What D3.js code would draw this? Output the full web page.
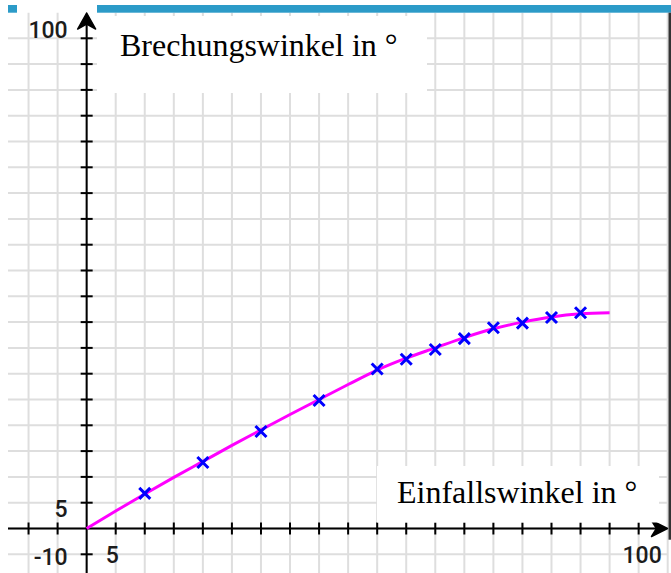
<!DOCTYPE html>
<html>
<head>
<meta charset="utf-8">
<script src="https://cdn.jsdelivr.net/npm/d3@7/dist/d3.min.js"></script>
<style>
  html, body { margin: 0; padding: 0; background: #fff; }
  svg { display: block; }
</style>
</head>
<body>
<svg id="chart" width="671" height="573"></svg>
<script>
// ---- data ----
const einfall = [10, 20, 30, 40, 50, 55, 60, 65, 70, 75, 80, 85];
const brechung = [6.8, 12.8, 18.8, 24.8, 30.9, 32.8, 34.7, 36.8, 38.9, 39.8, 40.9, 41.8];
const curveX = [0, 5, 10, 15, 20, 25, 30, 35, 40, 45, 50, 55, 60, 65, 70, 75, 80, 85, 90];
const curveY = [0, 3.4, 6.7, 9.9, 13.0, 16.1, 19.1, 22.1, 25.0, 27.9, 30.7, 33.0, 35.0, 37.0, 38.7, 40.0, 41.0, 41.6, 41.8];
const xTicks = [-10, -5, 5, 10, 15, 20, 25, 30, 35, 40, 45, 50, 55, 60, 65, 70, 75, 80, 85, 90, 95];
const yTicks = [-5, 5, 10, 15, 20, 25, 30, 35, 40, 45, 50, 55, 60, 65, 70, 75, 80, 85, 90, 95];
const gridX = [-10, -5, 0, 5, 10, 15, 20, 25, 30, 35, 40, 45, 50, 55, 60, 65, 70, 75, 80, 85, 90, 95, 100];
const gridY = [-5, 0, 5, 10, 15, 20, 25, 30, 35, 40, 45, 50, 55, 60, 65, 70, 75, 80, 85, 90, 95];
const xLabelAt = [4.4, 95.6];
const xLabelText = ["5", "100"];
const yLabelAt = [5, -4.4, 97.7];
const yLabelText = ["5", "-10", "100"];
const yTitle = "Brechungswinkel in °";
const xTitle = "Einfallswinkel in °";

// ---- scales ----
const x = d3.scaleLinear().domain([-15, 100]).range([-0.5, 667.7]);
const y = d3.scaleLinear().domain([-10, 100]).range([580.1, 12.5]);

const svg = d3.select("#chart");
const gridLeft = 8, gridRight = 668, gridTop = 12.7, gridBottom = 573;

// grid
const grid = svg.append("g").attr("stroke", "#dedede").attr("stroke-width", 2);
grid.selectAll("line.gx").data(gridX).join("line")
  .attr("x1", d => x(d)).attr("x2", d => x(d))
  .attr("y1", gridTop).attr("y2", gridBottom);
grid.selectAll("line.gy").data(gridY).join("line")
  .attr("y1", d => y(d)).attr("y2", d => y(d))
  .attr("x1", gridLeft).attr("x2", gridRight);

// axes
const axes = svg.append("g").attr("stroke", "#000").attr("stroke-width", 2);
axes.append("line").attr("x1", gridLeft).attr("x2", 664)
  .attr("y1", y(0)).attr("y2", y(0));
axes.append("line").attr("x1", x(0)).attr("x2", x(0))
  .attr("y1", gridBottom).attr("y2", 16);
axes.selectAll("line.tx").data(xTicks).join("line")
  .attr("x1", d => x(d)).attr("x2", d => x(d))
  .attr("y1", y(0) - 6).attr("y2", y(0) + 6);
axes.selectAll("line.ty").data(yTicks).join("line")
  .attr("y1", d => y(d)).attr("y2", d => y(d))
  .attr("x1", x(0) - 6).attr("x2", x(0) + 6);

// arrow heads
const ax = 667.5, ay = y(0);
svg.append("path")
  .attr("d", `M${ax},${ay} L${ax - 16},${ay - 8} L${ax - 11},${ay} L${ax - 16},${ay + 8} Z`)
  .attr("fill", "#000").attr("stroke", "#000").attr("stroke-width", 1.5).attr("stroke-linejoin", "round");
const bx = x(0), by = 13;
svg.append("path")
  .attr("d", `M${bx},${by} L${bx - 9},${by + 16} L${bx},${by + 11} L${bx + 9},${by + 16} Z`)
  .attr("fill", "#000").attr("stroke", "#000").attr("stroke-width", 1.5).attr("stroke-linejoin", "round");

// tick labels
const lab = svg.append("g")
  .attr("font-family", "Roboto, 'Noto Sans', sans-serif")
  .attr("font-size", 23).attr("font-weight", 500).attr("fill", "#1c1c1c");
lab.selectAll("text.xl").data(xLabelAt).join("text")
  .attr("x", d => x(d)).attr("y", y(0) + 34)
  .attr("text-anchor", "middle")
  .text((d, i) => xLabelText[i]);
lab.selectAll("text.yl").data(yLabelAt).join("text")
  .attr("x", x(0) - 19).attr("y", d => y(d) + 14)
  .attr("text-anchor", "end")
  .text((d, i) => yLabelText[i]);

// fitted curve
const line = d3.line().x(d => x(d[0])).y(d => y(d[1])).curve(d3.curveMonotoneX);
svg.append("path")
  .datum(curveX.map((v, i) => [v, curveY[i]]))
  .attr("d", line)
  .attr("fill", "none").attr("stroke", "#ff00ff").attr("stroke-width", 3);

// measured points as crosses
const s = 5.5;
const pts = svg.append("g").attr("stroke", "#0000ff").attr("stroke-width", 3);
pts.selectAll("path").data(einfall.map((v, i) => [v, brechung[i]])).join("path")
  .attr("d", d => {
    const px = x(d[0]), py = y(d[1]);
    return `M${px - s},${py - s} L${px + s},${py + s} M${px - s},${py + s} L${px + s},${py - s}`;
  });

// title boxes
svg.append("rect").attr("x", 97).attr("y", 16).attr("width", 330).attr("height", 77).attr("fill", "#fff");
svg.append("text").attr("x", 120).attr("y", 56)
  .attr("font-family", "'Liberation Serif', 'Times New Roman', serif").attr("font-size", 32)
  .attr("fill", "#000").text(yTitle);
svg.append("rect").attr("x", 377).attr("y", 466).attr("width", 282).attr("height", 56.5).attr("fill", "#fff");
svg.append("text").attr("x", 397).attr("y", 503)
  .attr("font-family", "'Liberation Serif', 'Times New Roman', serif").attr("font-size", 32)
  .attr("fill", "#000").text(xTitle);

// frame pieces
svg.append("rect").attr("x", 97).attr("y", 5).attr("width", 574).attr("height", 7.7).attr("fill", "#2c9bc8");
svg.append("rect").attr("x", 8).attr("y", 5).attr("width", 9).attr("height", 7.7).attr("fill", "#2c9bc8");
svg.append("rect").attr("x", 668.5).attr("y", 12.7).attr("width", 2.5).attr("height", 527).attr("fill", "#333");
</script>
</body>
</html>
